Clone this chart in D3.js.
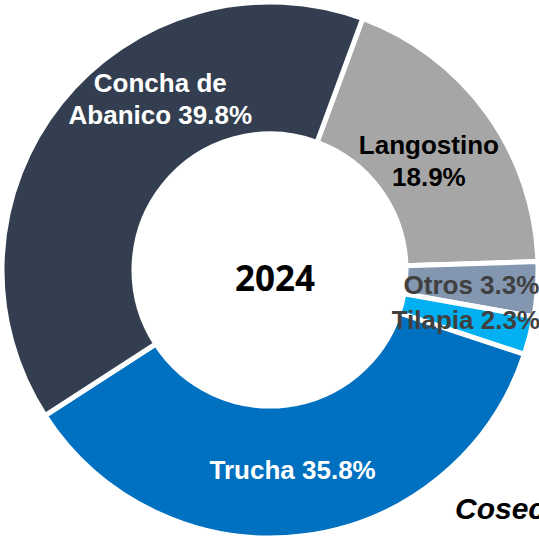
<html>
<script src="https://cdn.jsdelivr.net/npm/d3@7"></script>
<style>
body { margin: 0; background: #fff; overflow: hidden; }
text { font-family: "Liberation Sans", Arial, sans-serif; font-weight: bold; }
</style>
<body>
<svg width=539 height=537></svg>
</body>
<script>

// slices, clockwise from the top-right cut
var species = ["Langostino", "Otros", "Tilapia", "Trucha", "Concha de Abanico"];
var shares = [18.9, 3.3, 2.3, 35.8, 39.8];
var labelLines = [["Langostino", "18.9%"], ["Otros 3.3%"], ["Tilapia 2.3%"], ["Trucha 35.8%"], ["Concha de", "Abanico 39.8%"]];
var colors = ["#a6a6a6", "#8497b0", "#00b0f0", "#0070c0", "#333f50"];
var labelColors = ["#000", "#404040", "#404040", "#fff", "#fff"];
var centerLabel = "2024";

var cx = 270, cy = 270;
var outer = 268, inner = 136;
var start = 0.353;

// nudges from the centroid for the two hand-placed labels
var nudge = [[-5, 9], [0, 0], [0, 0], [-3, 0], [48, -45]];

var svg = d3.select("svg");
var g = svg.append("g").attr("transform", "translate(" + cx + "," + cy + ")");

var pie = d3.pie().sort(null).startAngle(start).endAngle(start + 2 * Math.PI);
var arc = d3.arc().innerRadius(inner).outerRadius(outer);
var arcs = pie(shares);

g.selectAll("path").data(arcs).enter().append("path")
  .attr("d", arc)
  .attr("fill", function(d, i) { return colors[i]; })
  .attr("stroke", "#fff")
  .attr("stroke-width", 5)
  .attr("stroke-linejoin", "miter");

var lineH = 32;
arcs.forEach(function(d, i) {
  var c = arc.centroid(d);
  var x = c[0] + nudge[i][0], y = c[1] + nudge[i][1];
  var lines = labelLines[i];
  var first = y + 9 - (lines.length - 1) * lineH / 2;
  var t = g.append("text")
    .attr("text-anchor", "middle")
    .attr("font-size", 26)
    .attr("fill", labelColors[i]);
  lines.forEach(function(s, k) {
    t.append("tspan").attr("x", x).attr("y", first + k * lineH).text(s);
  });
});

g.append("text")
  .attr("x", 5).attr("y", 21)
  .attr("text-anchor", "middle")
  .style("font-family", "'Open Sans', sans-serif")
  .style("font-weight", 700)
  .attr("font-size", 35)
  .attr("fill", "#000")
  .text(centerLabel);

svg.append("text")
  .attr("x", 455).attr("y", 519)
  .attr("font-size", 30)
  .attr("font-style", "italic")
  .attr("fill", "#000")
  .text("Cosecha");

</script>
</html>
